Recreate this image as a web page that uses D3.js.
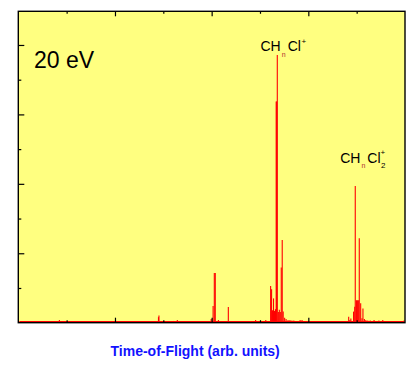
<!DOCTYPE html>
<html>
<head>
<meta charset="utf-8">
<script src="https://cdn.jsdelivr.net/npm/d3@7"></script>
<style>
  html, body { margin: 0; padding: 0; background: #fff; }
  svg { display: block; }
</style>
</head>
<body>
<div id="chart"></div>
<script>
// stick spectrum: time-of-flight (arb.) and intensity
const tof = [0.85, 2.90, 2.91, 3.10, 3.21, 3.29, 3.99, 4.03, 4.055, 4.075, 4.14, 4.28, 4.345, 4.55,
  4.91, 5.12, 5.16, 5.22, 5.24, 5.26, 5.28, 5.30, 5.32, 5.335, 5.345, 5.358, 5.38, 5.40, 5.42,
  5.44, 5.46, 5.48, 5.51, 5.54, 5.58, 5.62, 5.66, 5.70, 5.74, 5.83, 5.87, 6.18, 6.51,
  6.835, 6.86, 6.88, 6.935, 6.96, 6.971, 6.995, 7.015, 7.035, 7.054, 7.083, 7.11, 7.13,
  7.16, 7.19, 7.23, 7.28, 7.36, 7.46, 7.54, 7.98];
const intensity = [0.08, 0.16, 0.21, 0.05, 0.05, 0.08, 0.11, 0.48, 1.43, 1.43, 0.08, 0.05, 0.45, 0.05,
  0.08, 0.08, 0.05, 1.06, 0.96, 0.36, 0.70, 0.34, 0.39, 6.37, 6.37, 7.71, 0.31, 0.37, 0.31,
  1.59, 2.38, 0.32, 0.14, 0.11, 0.08, 0.08, 0.06, 0.06, 0.05, 0.08, 0.08, 0.05, 0.05,
  0.17, 0.08, 0.12, 0.32, 0.46, 3.94, 0.65, 0.65, 0.65, 2.43, 0.56, 0.13, 0.41,
  0.11, 0.08, 0.06, 0.06, 0.08, 0.06, 0.08, 0.06];

const xMajor = [2, 4, 6];
const xMinor = [1, 3, 5, 7];
const yMajor = [2, 4, 6, 8];
const yMinor = [1, 3, 5, 7];

const W = 418, H = 371;
const pLeft = 18.3, pRight = 405, pTop = 11.3, pBottom = 322.7;

const x = d3.scaleLinear().domain([0, 8]).range([pLeft, pRight]);
const y = d3.scaleLinear().domain([0, 8.97]).range([pBottom, pTop]);

const svg = d3.select("#chart").append("svg")
  .attr("width", W).attr("height", H)
  .style("font-family", "'Liberation Sans', Arial, sans-serif");

svg.append("rect")
  .attr("x", pLeft).attr("y", pTop)
  .attr("width", pRight - pLeft).attr("height", pBottom - pTop)
  .attr("fill", "#ffff80");

// baseline of the spectrum
svg.append("line")
  .attr("x1", x(0) + 1).attr("x2", x(8) - 1)
  .attr("y1", y(0.025)).attr("y2", y(0.025))
  .attr("stroke", "#ff0000").attr("stroke-width", 1.8);

svg.append("g")
  .selectAll("line")
  .data(tof.map((t, i) => ({ t, v: intensity[i] })))
  .join("line")
  .attr("x1", d => x(d.t)).attr("x2", d => x(d.t))
  .attr("y1", y(0)).attr("y2", d => y(d.v))
  .attr("stroke", "#ff0000")
  .attr("stroke-width", 1.1);

function ticks(axis, values, size, tx, ty) {
  const g = svg.append("g")
    .attr("transform", `translate(${tx},${ty})`)
    .call(axis.tickValues(values).tickSize(size).tickFormat(""));
  g.select(".domain").remove();
  g.selectAll("line").attr("stroke", "#000").attr("stroke-width", 1.2);
}
ticks(d3.axisBottom(x), xMajor, -5, 0, pBottom);
ticks(d3.axisBottom(x), xMinor, -2.5, 0, pBottom);
ticks(d3.axisTop(x), xMajor, -5, 0, pTop);
ticks(d3.axisTop(x), xMinor, -2.5, 0, pTop);
ticks(d3.axisLeft(y), yMajor, -6, pLeft, 0);
ticks(d3.axisLeft(y), yMinor, -3, pLeft, 0);

svg.append("rect")
  .attr("x", pLeft).attr("y", pTop)
  .attr("width", pRight - pLeft).attr("height", pBottom - pTop)
  .attr("fill", "none").attr("stroke", "#000").attr("stroke-width", 1.4);

svg.append("text")
  .attr("x", 34).attr("y", 67.5)
  .attr("font-size", 23).attr("fill", "#000")
  .text("20 eV");

function label(xPos, yPos, two) {
  const t = svg.append("text").attr("x", xPos).attr("y", yPos)
    .attr("font-size", 14).attr("fill", "#000");
  t.append("tspan").text("CH");
  t.append("tspan").attr("font-size", 7).attr("dy", 5.5).attr("dx", 1).attr("fill", "#b03030").text("n");
  t.append("tspan").attr("dy", -5.5).attr("dx", 2).text("Cl");
  if (two) {
    t.append("tspan").attr("font-size", 8).attr("dy", 5.5).attr("dx", 0.5).text("2");
    t.append("tspan").attr("font-size", 8).attr("dy", -13).attr("dx", -5).text("+");
  } else {
    t.append("tspan").attr("font-size", 8).attr("dy", -7).attr("dx", 0.5).text("+");
  }
}
label(260.5, 51, false);
label(340.2, 162.7, true);

svg.append("text")
  .attr("x", 110.5).attr("y", 356)
  .attr("font-size", 14).attr("font-weight", "bold")
  .attr("fill", "#1212ff")
  .text("Time-of-Flight (arb. units)");
</script>
</body>
</html>
